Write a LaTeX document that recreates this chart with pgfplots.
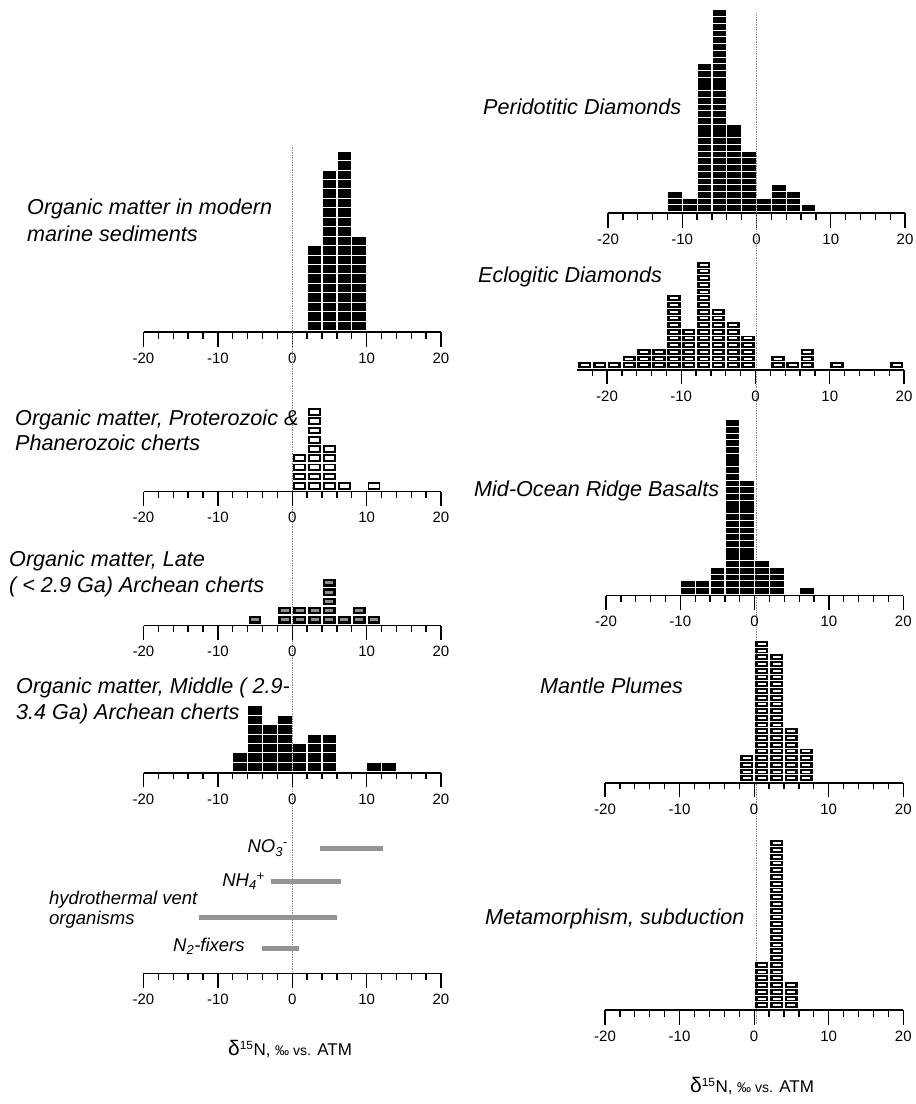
\documentclass[border=0pt]{standalone}
\usepackage{pgfplots}
\pgfplotsset{compat=1.18}
\usepackage{fontspec}
\setmainfont{Liberation Sans}

% ---------- one mark = one sample box; point (bin centre, k) is the top edge of the k-th box ----------
\pgfdeclareplotmark{boxs}{%
  \pgfpathrectangle{\pgfqpoint{\dimexpr-\bw/2+\gx/2\relax}{\dimexpr-\bh+\gy/2\relax}}%
                   {\pgfqpoint{\dimexpr\bw-\gx\relax}{\dimexpr\bh-\gy\relax}}%
  \pgfsetfillcolor{black}\pgfusepathqfill
}
\pgfdeclareplotmark{boxo}{%
  \pgfpathrectangle{\pgfqpoint{\dimexpr-\bw/2+\gx/2\relax}{\dimexpr-\bh+\gy/2\relax}}%
                   {\pgfqpoint{\dimexpr\bw-\gx\relax}{\dimexpr\bh-\gy\relax}}%
  \pgfsetfillcolor{black}\pgfusepathqfill
  \pgfpathrectangle{\pgfqpoint{\dimexpr-\inw/2\relax}{\dimexpr-\bh/2-\inh/2\relax}}%
                   {\pgfqpoint{\inw}{\inh}}%
  \pgfsetfillcolor{\incol}\pgfusepathqfill
}

\pgfplotsset{
  hist/.style={
    scale only axis, clip=false,
    xmin=-20, xmax=20,
    axis x line*=bottom, axis y line=none, ytick=\empty,
    x axis line style={line width=1.3pt,-},
    xtick={-20,-10,0,10,20},
    xticklabels={-20,-10,0,10,20},
    minor xtick={-18,-16,...,18},
    tick align=outside,
    major tick length=14.5pt, minor tick length=6.5pt,
    every tick/.style={black, line width=1.3pt},
    xticklabel style={font=\fontsize{15}{17}\selectfont, inner sep=0pt, yshift=-6pt},
  },
  solidbox/.style={only marks, mark=boxs},
  openbox/.style={only marks, mark=boxo},
  rangebar/.style={line width=5pt, black!42, no markers},
}
\tikzset{zeroline/.style={black!45, line width=1pt, dash pattern=on 1pt off 0.7pt}}

\newcommand\lab{\fontsize{21.6}{26}\selectfont\itshape}
\newcommand\slab{\fontsize{18.5}{22}\selectfont\itshape}
\newcommand\dlab{\fontsize{17}{20}\selectfont}

\begin{document}
\begin{tikzpicture}[x=1pt,y=1pt]
\useasboundingbox (0pt,0pt) rectangle (916pt,1104pt);

% ================= LEFT COLUMN =================
% modern marine sediments
\def\bw{14.87pt}\def\gx{1.3pt}\def\gy{1pt}\def\bh{9.44pt}
\begin{axis}[hist, at={(143.5pt,772pt)}, anchor=south west, width=297.5pt,
  ymin=-0.15, ymax=19.5, height=185.5pt]
  \draw[zeroline] (axis cs:0,19.5) -- (axis cs:0,-69.5);
  \addplot[solidbox] coordinates {
  (3,1)(3,2)(3,3)(3,4)(3,5)(3,6)(3,7)(3,8)(3,9)
  (5,1)(5,2)(5,3)(5,4)(5,5)(5,6)(5,7)(5,8)(5,9)(5,10)(5,11)(5,12)(5,13)(5,14)(5,15)(5,16)(5,17)
  (7,1)(7,2)(7,3)(7,4)(7,5)(7,6)(7,7)(7,8)(7,9)(7,10)(7,11)(7,12)(7,13)(7,14)(7,15)(7,16)(7,17)(7,18)(7,19)
  (9,1)(9,2)(9,3)(9,4)(9,5)(9,6)(9,7)(9,8)(9,9)(9,10)
  };
\end{axis}

% Proterozoic & Phanerozoic cherts
\def\bw{14.87pt}\def\gx{2pt}\def\gy{1.6pt}\def\bh{9.2pt}
\def\inw{9.2pt}\def\inh{3.8pt}\def\incol{white}
\begin{axis}[hist, at={(143.5pt,612.3pt)}, anchor=south west, width=297.5pt,
  ymin=-0.15, ymax=10, height=93.4pt]
  \addplot[openbox] coordinates {
  (1,1)(1,2)(1,3)(1,4)
  (3,1)(3,2)(3,3)(3,4)(3,5)(3,6)(3,7)(3,8)(3,9)
  (5,1)(5,2)(5,3)(5,4)(5,5)
  (7,1)
  (11,1)
  };
\end{axis}

% Late Archean cherts
\def\bw{14.87pt}\def\gx{2pt}\def\gy{1.6pt}\def\bh{9.2pt}
\def\inw{8pt}\def\inh{3pt}\def\incol{black!45}
\begin{axis}[hist, at={(143.5pt,478.3pt)}, anchor=south west, width=297.5pt,
  ymin=-0.15, ymax=6, height=56.6pt]
  \addplot[openbox] coordinates {
  (-5,1)
  (-1,1)(-1,2)
  (1,1)(1,2)
  (3,1)(3,2)
  (5,1)(5,2)(5,3)(5,4)(5,5)
  (7,1)
  (9,1)(9,2)
  (11,1)
  };
\end{axis}

% Middle Archean cherts
\def\bw{14.87pt}\def\gx{1.3pt}\def\gy{1pt}\def\bh{9.38pt}
\begin{axis}[hist, at={(143.5pt,331pt)}, anchor=south west, width=297.5pt,
  ymin=-0.15, ymax=8, height=76.4pt]
  \addplot[solidbox] coordinates {
  (-7,1)(-7,2)
  (-5,1)(-5,2)(-5,3)(-5,4)(-5,5)(-5,6)(-5,7)
  (-3,1)(-3,2)(-3,3)(-3,4)(-3,5)
  (-1,1)(-1,2)(-1,3)(-1,4)(-1,5)(-1,6)
  (1,1)(1,2)(1,3)
  (3,1)(3,2)(3,3)(3,4)
  (5,1)(5,2)(5,3)(5,4)
  (11,1)
  (13,1)
  };
\end{axis}

% ranges of modern organisms
\begin{axis}[hist, at={(143.5pt,130.7pt)}, anchor=south west, width=297.5pt,
  ymin=0, ymax=135, height=135pt]
  \addplot[rangebar] coordinates {(3.7,125) (12.2,125)};
  \addplot[rangebar] coordinates {(-2.8,91.6) (6.6,91.6)};
  \addplot[rangebar] coordinates {(-12.6,56) (6.0,56)};
  \addplot[rangebar] coordinates {(-4.1,25) (0.9,25)};
\end{axis}

% ================= RIGHT COLUMN =================
% Peridotitic diamonds
\def\bw{14.85pt}\def\gx{1.2pt}\def\gy{0.9pt}\def\bh{6.72pt}
\begin{axis}[hist, at={(608pt,891pt)}, anchor=south west, width=297pt,
  ymin=-0.2, ymax=30.2, height=204.3pt]
  \draw[zeroline] (axis cs:0,29.5) -- (axis cs:0,-121);
  \addplot[solidbox] coordinates {
  (-11,1)(-11,2)(-11,3)
  (-9,1)(-9,2)
  (-7,1)(-7,2)(-7,3)(-7,4)(-7,5)(-7,6)(-7,7)(-7,8)(-7,9)(-7,10)(-7,11)(-7,12)(-7,13)(-7,14)(-7,15)(-7,16)(-7,17)(-7,18)(-7,19)(-7,20)(-7,21)(-7,22)
  (-5,1)(-5,2)(-5,3)(-5,4)(-5,5)(-5,6)(-5,7)(-5,8)(-5,9)(-5,10)(-5,11)(-5,12)(-5,13)(-5,14)(-5,15)(-5,16)(-5,17)(-5,18)(-5,19)(-5,20)(-5,21)(-5,22)(-5,23)(-5,24)(-5,25)(-5,26)(-5,27)(-5,28)(-5,29)(-5,30)
  (-3,1)(-3,2)(-3,3)(-3,4)(-3,5)(-3,6)(-3,7)(-3,8)(-3,9)(-3,10)(-3,11)(-3,12)(-3,13)
  (-1,1)(-1,2)(-1,3)(-1,4)(-1,5)(-1,6)(-1,7)(-1,8)(-1,9)
  (1,1)(1,2)
  (3,1)(3,2)(3,3)(3,4)
  (5,1)(5,2)(5,3)
  (7,1)
  };
\end{axis}

% Eclogitic diamonds
\def\bw{14.85pt}\def\gx{1.4pt}\def\gy{1pt}\def\bh{6.7pt}
\def\inw{8pt}\def\inh{2pt}\def\incol{white}
\begin{axis}[hist, at={(577.3pt,734pt)}, anchor=south west, width=326.7pt,
  xmin=-24, minor xtick={-22,-18,-16,...,18},
  ymin=-0.2, ymax=16.3, height=110.6pt]
  \addplot[openbox] coordinates {
  (-23,1)(-21,1)(-19,1)
  (-17,1)(-17,2)
  (-15,1)(-15,2)(-15,3)
  (-13,1)(-13,2)(-13,3)
  (-11,1)(-11,2)(-11,3)(-11,4)(-11,5)(-11,6)(-11,7)(-11,8)(-11,9)(-11,10)(-11,11)
  (-9,1)(-9,2)(-9,3)(-9,4)(-9,5)(-9,6)
  (-7,1)(-7,2)(-7,3)(-7,4)(-7,5)(-7,6)(-7,7)(-7,8)(-7,9)(-7,10)(-7,11)(-7,12)(-7,13)(-7,14)(-7,15)(-7,16)
  (-5,1)(-5,2)(-5,3)(-5,4)(-5,5)(-5,6)(-5,7)(-5,8)(-5,9)
  (-3,1)(-3,2)(-3,3)(-3,4)(-3,5)(-3,6)(-3,7)
  (-1,1)(-1,2)(-1,3)(-1,4)(-1,5)
  (3,1)(3,2)
  (5,1)
  (7,1)(7,2)(7,3)
  (11,1)
  (19,1)
  };
\end{axis}

% MORB
\def\bw{14.86pt}\def\gx{1.2pt}\def\gy{0.9pt}\def\bh{6.72pt}
\begin{axis}[hist, at={(606pt,508.3pt)}, anchor=south west, width=297.3pt,
  ymin=-0.2, ymax=26.2, height=177.4pt]
  \addplot[solidbox] coordinates {
  (-9,1)(-9,2)
  (-7,1)(-7,2)
  (-5,1)(-5,2)(-5,3)(-5,4)
  (-3,1)(-3,2)(-3,3)(-3,4)(-3,5)(-3,6)(-3,7)(-3,8)(-3,9)(-3,10)(-3,11)(-3,12)(-3,13)(-3,14)(-3,15)(-3,16)(-3,17)(-3,18)(-3,19)(-3,20)(-3,21)(-3,22)(-3,23)(-3,24)(-3,25)(-3,26)
  (-1,1)(-1,2)(-1,3)(-1,4)(-1,5)(-1,6)(-1,7)(-1,8)(-1,9)(-1,10)(-1,11)(-1,12)(-1,13)(-1,14)(-1,15)(-1,16)(-1,17)
  (1,1)(1,2)(1,3)(1,4)(1,5)
  (3,1)(3,2)(3,3)(3,4)
  (7,1)
  };
\end{axis}

% Mantle plumes
\def\bw{14.9pt}\def\gx{1.4pt}\def\gy{1pt}\def\bh{6.72pt}
\def\inw{8pt}\def\inh{2pt}\def\incol{white}
\begin{axis}[hist, at={(605pt,321pt)}, anchor=south west, width=298.3pt,
  ymin=-0.2, ymax=21.2, height=143.8pt]
  \addplot[openbox] coordinates {
  (-1,1)(-1,2)(-1,3)(-1,4)
  (1,1)(1,2)(1,3)(1,4)(1,5)(1,6)(1,7)(1,8)(1,9)(1,10)(1,11)(1,12)(1,13)(1,14)(1,15)(1,16)(1,17)(1,18)(1,19)(1,20)(1,21)
  (3,1)(3,2)(3,3)(3,4)(3,5)(3,6)(3,7)(3,8)(3,9)(3,10)(3,11)(3,12)(3,13)(3,14)(3,15)(3,16)(3,17)(3,18)(3,19)
  (5,1)(5,2)(5,3)(5,4)(5,5)(5,6)(5,7)(5,8)
  (7,1)(7,2)(7,3)(7,4)(7,5)
  };
\end{axis}

% Metamorphism, subduction
\def\bw{14.9pt}\def\gx{1.4pt}\def\gy{1pt}\def\bh{6.75pt}
\def\inw{8pt}\def\inh{2pt}\def\incol{white}
\begin{axis}[hist, at={(605pt,94pt)}, anchor=south west, width=298.3pt,
  ymin=-0.2, ymax=25.2, height=171.5pt]
  \addplot[openbox] coordinates {
  (1,1)(1,2)(1,3)(1,4)(1,5)(1,6)(1,7)
  (3,1)(3,2)(3,3)(3,4)(3,5)(3,6)(3,7)(3,8)(3,9)(3,10)(3,11)(3,12)(3,13)(3,14)(3,15)(3,16)(3,17)(3,18)(3,19)(3,20)(3,21)(3,22)(3,23)(3,24)(3,25)
  (5,1)(5,2)(5,3)(5,4)
  };
\end{axis}

% ================= LABELS =================
\node[anchor=base west, inner sep=0pt, font=\lab] at (27pt,889pt) {Organic matter in modern};
\node[anchor=base west, inner sep=0pt, font=\lab] at (27pt,862pt) {marine sediments};
\node[anchor=base west, inner sep=0pt, font=\lab] at (15pt,678.3pt) {Organic matter, Proterozoic \&};
\node[anchor=base west, inner sep=0pt, font=\lab] at (15pt,653pt) {Phanerozoic cherts};
\node[anchor=base west, inner sep=0pt, font=\lab] at (9pt,537pt) {Organic matter, Late};
\node[anchor=base west, inner sep=0pt, font=\lab] at (9pt,511pt) {( < 2.9 Ga) Archean cherts};
\node[anchor=base west, inner sep=0pt, font=\lab] at (16pt,410pt) {Organic matter, Middle ( 2.9-};
\node[anchor=base west, inner sep=0pt, font=\lab] at (16pt,384pt) {3.4 Ga) Archean cherts};
\node[anchor=base east, inner sep=0pt, font=\slab] at (288pt,251pt) {NO\textsubscript{3}\textsuperscript{-}};
\node[anchor=base east, inner sep=0pt, font=\slab] at (265pt,217pt) {NH\textsubscript{4}\textsuperscript{+}};
\node[anchor=base west, inner sep=0pt, font=\slab] at (49pt,199pt) {hydrothermal vent};
\node[anchor=base west, inner sep=0pt, font=\slab] at (49pt,179pt) {organisms};
\node[anchor=base west, inner sep=0pt, font=\slab] at (173pt,152.3pt) {N\textsubscript{2}-fixers};
\node[anchor=base, inner sep=0pt, font=\dlab] at (290pt,48pt) {{\fontsize{21}{22}\selectfont δ}\textsuperscript{15}N, {\fontsize{14}{16}\selectfont ‰ vs.} ATM};

\node[anchor=base west, inner sep=0pt, font=\lab] at (483pt,989pt) {Peridotitic Diamonds};
\node[anchor=base west, inner sep=0pt, font=\lab] at (478pt,821.3pt) {Eclogitic Diamonds};
\node[anchor=base west, inner sep=0pt, font=\lab] at (474pt,607.3pt) {Mid-Ocean Ridge Basalts};
\node[anchor=base west, inner sep=0pt, font=\lab] at (540pt,410pt) {Mantle Plumes};
\node[anchor=base west, inner sep=0pt, font=\lab] at (485pt,179pt) {Metamorphism, subduction};
\node[anchor=base, inner sep=0pt, font=\dlab] at (752pt,11pt) {{\fontsize{21}{22}\selectfont δ}\textsuperscript{15}N, {\fontsize{14}{16}\selectfont ‰ vs.} ATM};
\end{tikzpicture}
\end{document}
